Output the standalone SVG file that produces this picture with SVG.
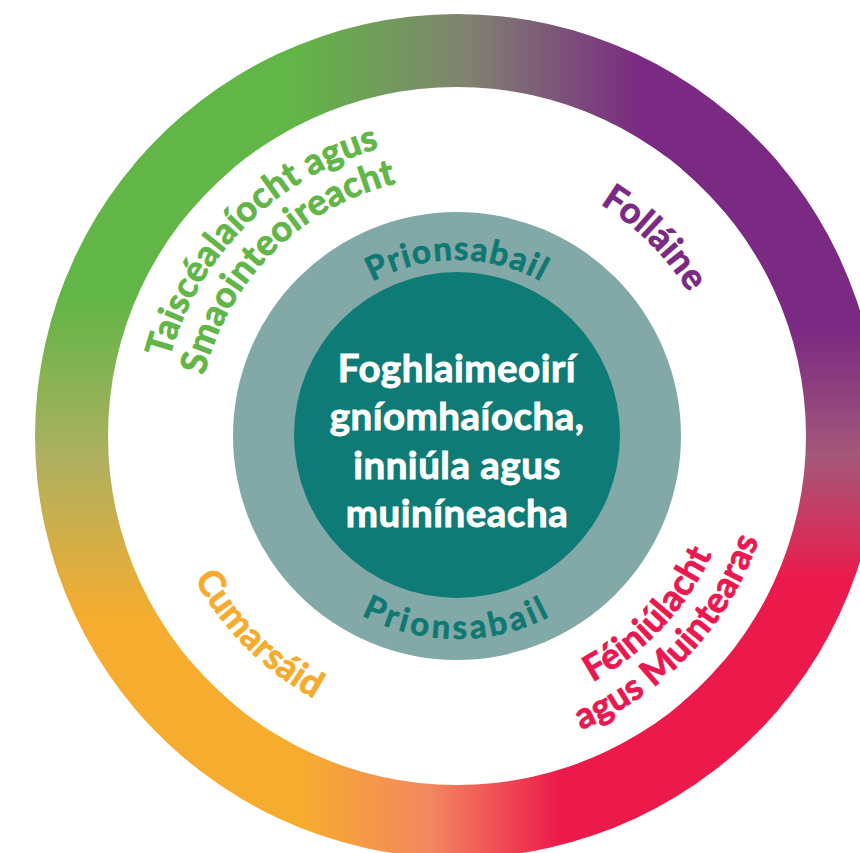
<svg xmlns="http://www.w3.org/2000/svg" width="860" height="853" viewBox="0 0 860 853">
  <defs>
    <linearGradient id="gTop" gradientUnits="userSpaceOnUse" x1="296" y1="0" x2="640" y2="0">
      <stop offset="0" stop-color="#62b547"/>
      <stop offset="0.5" stop-color="#808270"/>
      <stop offset="1" stop-color="#7a2a82"/>
    </linearGradient>
    <linearGradient id="gRight" gradientUnits="userSpaceOnUse" x1="0" y1="330" x2="0" y2="580">
      <stop offset="0" stop-color="#7a2a82"/>
      <stop offset="0.5" stop-color="#a4587a"/>
      <stop offset="1" stop-color="#ec1a4b"/>
    </linearGradient>
    <linearGradient id="gBottom" gradientUnits="userSpaceOnUse" x1="300" y1="0" x2="560" y2="0">
      <stop offset="0" stop-color="#f6ac2e"/>
      <stop offset="0.5" stop-color="#f3875f"/>
      <stop offset="1" stop-color="#ec1a4b"/>
    </linearGradient>
    <linearGradient id="gLeft" gradientUnits="userSpaceOnUse" x1="0" y1="300" x2="0" y2="620">
      <stop offset="0" stop-color="#62b547"/>
      <stop offset="0.5" stop-color="#b0b060"/>
      <stop offset="1" stop-color="#f6ac2e"/>
    </linearGradient>
    <path id="pTais1" d="M246.28 646.72 A298 298 0 0 1 667.72 225.28"/>
    <path id="pTais2" d="M273.15 619.85 A260 260 0 0 1 640.85 252.15"/>
    <path id="pFoll" d="M263.96 242.96 A273 273 0 0 1 650.04 629.04"/>
    <path id="pCum" d="M244.87 223.87 A300 300 0 0 0 669.13 648.13"/>
    <path id="pFein1" d="M258.30 634.70 A281 281 0 0 0 655.70 237.30"/>
    <path id="pFein2" d="M231.43 661.57 A319 319 0 0 0 682.57 210.43"/>
    <path id="pPrTop" d="M281 436 A176 176 0 0 1 633 436"/>
    <path id="pPrBot" d="M254 436 A203 203 0 0 0 660 436"/>
  </defs>
  <style>
    text { font-family: Lato, "Open Sans", "Liberation Sans", sans-serif; font-weight: 700; }
    .lbl { font-size: 36px; stroke-width: 0.9px; letter-spacing: 0.3px; }
    .pr { font-size: 33px; fill: #0f7873; stroke: #0f7873; stroke-width: 0.7px; letter-spacing: 1.4px; }
    .prb { letter-spacing: 3.4px; }
    .core { font-size: 38.5px; fill: #ffffff; stroke: #ffffff; stroke-width: 0.9px; letter-spacing: 0.5px; text-anchor: middle; }
  </style>
  <rect width="860" height="853" fill="#ffffff"/>
  <g id="outer-ring">
    <path fill="url(#gTop)" d="M133.73 164.74 A422 422 0 0 1 780.27 164.74 L724.35 211.67 A349 349 0 0 0 189.65 211.67 Z"/>
    <path fill="url(#gRight)" d="M728.26 112.73 A422 422 0 0 1 728.26 759.27 L681.33 703.35 A349 349 0 0 0 681.33 168.65 Z"/>
    <path fill="url(#gBottom)" d="M780.27 707.26 A422 422 0 0 1 133.73 707.26 L189.65 660.33 A349 349 0 0 0 724.35 660.33 Z"/>
    <path fill="url(#gLeft)" d="M185.74 759.27 A422 422 0 0 1 185.74 112.73 L232.67 168.65 A349 349 0 0 0 232.67 703.35 Z"/>
  </g>
  <g id="label-taiscealaiocht" fill="#62b547" stroke="#62b547">
    <text class="lbl"><textPath href="#pTais1" startOffset="50%" text-anchor="middle">Taiscéalaíocht agus</textPath></text>
    <text class="lbl"><textPath href="#pTais2" startOffset="50%" text-anchor="middle">Smaointeoireacht</textPath></text>
  </g>
  <g id="label-follaine" fill="#7a2a84" stroke="#7a2a84">
    <text class="lbl"><textPath href="#pFoll" startOffset="50%" text-anchor="middle">Folláine</textPath></text>
  </g>
  <g id="label-cumarsaid" fill="#f6ab2e" stroke="#f6ab2e">
    <text class="lbl"><textPath href="#pCum" startOffset="50%" text-anchor="middle">Cumarsáid</textPath></text>
  </g>
  <g id="label-feiniulacht" fill="#eb1850" stroke="#eb1850" transform="rotate(-2 457 436)">
    <text class="lbl"><textPath href="#pFein1" startOffset="50%" text-anchor="middle">Féiniúlacht</textPath></text>
    <text class="lbl"><textPath href="#pFein2" startOffset="50%" text-anchor="middle">agus Muintearas</textPath></text>
  </g>
  <g id="prionsabail-ring">
    <circle cx="457" cy="436" r="224" fill="#82a9a8"/>
    <text class="pr"><textPath href="#pPrTop" startOffset="50%" text-anchor="middle">Prionsabail</textPath></text>
    <text class="pr prb"><textPath href="#pPrBot" startOffset="50%" text-anchor="middle">Prionsabail</textPath></text>
  </g>
  <g id="core">
    <circle cx="457" cy="435" r="163" fill="#0f7b76"/>
    <text class="core" x="457" y="381.5">Foghlaimeoirí</text>
    <text class="core" x="457" y="430">gníomhaíocha,</text>
    <text class="core" x="457" y="478.5">inniúla agus</text>
    <text class="core" x="457" y="527">muiníneacha</text>
  </g>
</svg>
